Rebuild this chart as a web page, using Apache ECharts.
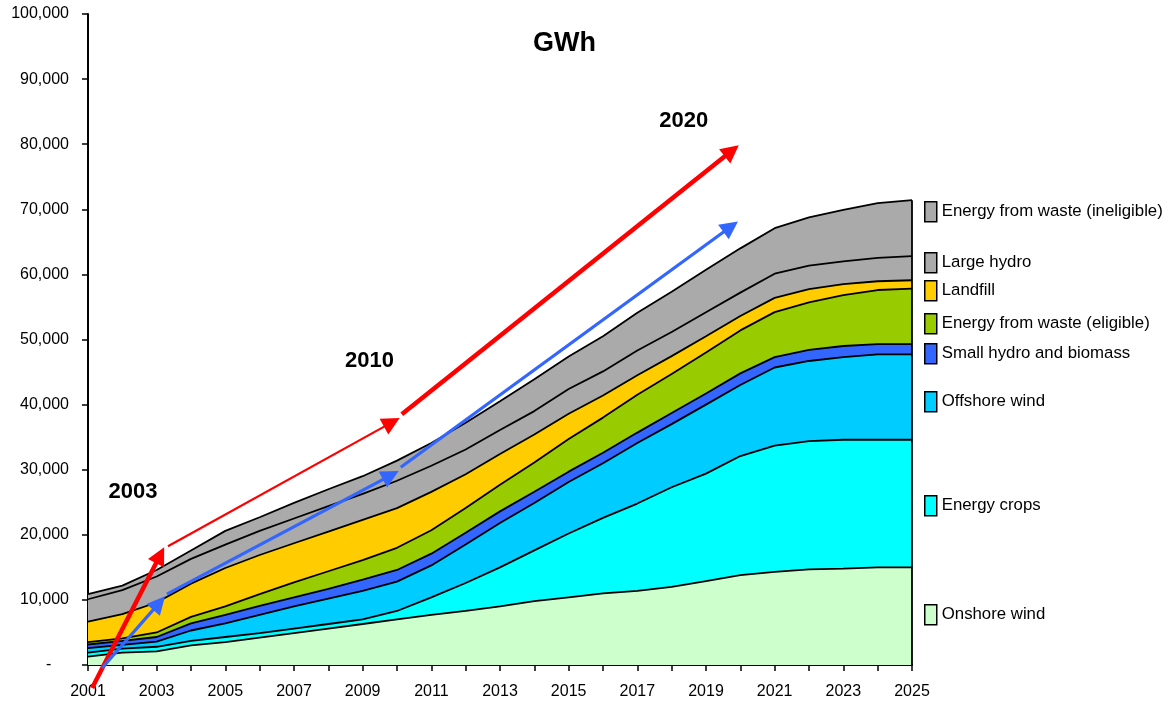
<!DOCTYPE html>
<html><head><meta charset="utf-8">
<script src="https://cdn.jsdelivr.net/npm/echarts/dist/echarts.min.js"></script>
<style>html,body{margin:0;padding:0;background:#fff}#c{width:1175px;height:706px}</style>
</head><body><div id="c"></div>
<script>
// ---- data (GWh) ----
const years = [2001,2002,2003,2004,2005,2006,2007,2008,2009,2010,2011,2012,2013,2014,2015,2016,2017,2018,2019,2020,2021,2022,2023,2024,2025];
const onshoreWind   = [1300,1900,2100,3000,3500,4200,4900,5600,6300,7000,7700,8300,9000,9800,10400,11000,11400,12000,12900,13800,14300,14700,14800,15000,15000];
const energyCrops   = [600,600,700,700,800,700,700,700,700,1300,2700,4300,6000,7800,9800,11600,13400,15300,16500,18300,19400,19700,19800,19600,19600];
const offshoreWind  = [700,600,800,1600,2100,2800,3400,3900,4400,4500,4900,5900,6800,7300,7900,8400,9300,9700,10600,10900,12000,12300,12700,13100,13100];
const smallHydroBio = [550,600,700,1100,1300,1400,1400,1500,1700,1800,1800,1800,1800,1700,1600,1600,1600,1700,1700,1800,1600,1700,1700,1600,1600];
const efwEligible   = [350,400,700,1000,1300,1800,2300,2700,3000,3400,3600,3800,4100,4500,5000,5400,5800,6000,6300,6600,6900,7300,7800,8300,8500];
const landfill      = [3150,3700,4600,5100,5900,6000,6000,6100,6200,6100,5900,5200,4700,4300,3900,3400,3000,2750,2500,2200,2200,2050,1700,1350,1300];
const largeHydro    = [3450,3700,4000,3800,3600,3700,3800,3900,4000,4200,4000,3800,3700,3600,3800,3700,3800,3700,3700,3600,3700,3600,3500,3600,3700];
const efwIneligible = [800,700,1000,1300,2100,2100,2400,2600,2700,3100,3500,4100,4400,4900,5000,5400,5800,6200,6500,6800,7000,7400,7900,8400,8600];

const seriesNames = ['Onshore wind','Energy crops','Offshore wind','Small hydro and biomass','Energy from waste (eligible)','Landfill','Large hydro','Energy from waste (ineligible)'];
const seriesValues = [onshoreWind, energyCrops, offshoreWind, smallHydroBio, efwEligible, landfill, largeHydro, efwIneligible];

// annotation arrows: [start, arrowhead] in (year, GWh)
const redArrows  = [[[2001.12,-3530],[2003.10,16870]], [[2003.33,18250],[2009.85,37270]], [[2010.14,38500],[2019.75,78990]]];
const blueArrows = [[[2001.41,-460],[2003.07,9510]],   [[2003.30,10890],[2009.82,29140]], [[2010.11,30370],[2019.72,67330]]];
const noteLabels = ['2003','2010','2020'];
const noteX = [2002.31, 2009.2, 2018.35];
const noteY = [26530, 46780, 83590];
const yTickLabelsZero = '-';

// ---- styling ----
const FONT = 'Liberation Sans, Arial, sans-serif';
const fills = ['#CCFFCC','#00FFFF','#00CCFF','#3366FF','#99CC00','#FFCC00','#AAAAAA','#AAAAAA'];
const legendCenters = [614, 505, 401, 353, 323, 290, 262, 211];
const redWidths = [4.5, 2.2, 4.5];

const chart = echarts.init(document.getElementById('c'), null, {renderer:'canvas'});

const areaSeries = seriesNames.map((name, i) => ({
  name, type: 'line', stack: 'total', symbol: 'none', showSymbol: false, smooth: false,
  xAxisIndex: 0, yAxisIndex: 0,
  color: fills[i],
  itemStyle: {color: fills[i]},
  lineStyle: {color: '#000', width: 1.8},
  areaStyle: {color: fills[i], opacity: 1},
  emphasis: {disabled: true},
  silent: true,
  z: 2,
  data: seriesValues[i]
}));

const lastTotal = seriesValues.reduce((s, arr) => s + arr[arr.length - 1], 0);
const arrowSeries = {
  type: 'lines', coordinateSystem: 'cartesian2d', xAxisIndex: 1, yAxisIndex: 0,
  clip: false, silent: true, z: 10,
  symbol: ['none','triangle'], symbolSize: 18,
  data: redArrows.map((a, i) => ({coords: a, lineStyle: {color: '#FF0000', width: redWidths[i], opacity: 1, curveness: 0}}))
    .concat(blueArrows.map(a => ({coords: a, lineStyle: {color: '#3366FF', width: 3.2, opacity: 1, curveness: 0}})))
};
const edgeSeries = {
  type: 'lines', coordinateSystem: 'cartesian2d', xAxisIndex: 1, yAxisIndex: 0,
  clip: false, silent: true, z: 5, symbol: ['none','none'],
  lineStyle: {color: '#000', width: 1.8, opacity: 1},
  data: [{coords: [[years[years.length-1], 0], [years[years.length-1], lastTotal]]}]
};

const noteSeries = {
  type: 'scatter', xAxisIndex: 1, yAxisIndex: 0, silent: true, z: 11, symbolSize: 0,
  itemStyle: {color: '#000'},
  label: {show: true, position: 'inside', formatter: p => p.value[2],
          fontFamily: FONT, fontSize: 22, fontWeight: 'bold', color: '#000', opacity: 1},
  data: noteLabels.map((t, i) => [noteX[i], noteY[i], t])
};

const legends = seriesNames.map((name, i) => ({
  data: [name], left: 924, top: legendCenters[i] - 10, padding: 0,
  orient: 'vertical', icon: 'rect', itemWidth: 12, itemHeight: 20, itemGap: 0,
  selectedMode: false,
  itemStyle: {borderColor: '#000', borderWidth: 1.5},
  textStyle: {fontFamily: FONT, fontSize: 16.8, color: '#000'}
}));

chart.setOption({
  animation: false,
  backgroundColor: '#fff',
  title: {text: 'GWh', left: 533, top: 30, padding: 0,
          textStyle: {fontFamily: FONT, fontSize: 27, fontWeight: 'bold', color: '#000'}},
  legend: legends,
  grid: {left: 88, right: 263, top: 14, bottom: 41, containLabel: false, outerBoundsMode: 'none'},
  xAxis: [{
    type: 'category', data: years, boundaryGap: false,
    axisLine: {show: true, lineStyle: {color: '#000', width: 2}},
    axisTick: {show: true, inside: false, length: 6, interval: 0, lineStyle: {color: '#000', width: 1.5}},
    splitLine: {show: false},
    axisLabel: {show: true, interval: 1, margin: 19, fontFamily: FONT, fontSize: 16, color: '#000', hideOverlap: false}
  }, {
    type: 'value', min: years[0], max: years[years.length-1], show: false,
    axisLine: {show: false}, axisTick: {show: false}, axisLabel: {show: false}, splitLine: {show: false}
  }],
  yAxis: {
    type: 'value', min: 0, max: 100000, interval: 10000,
    axisLine: {show: true, lineStyle: {color: '#000', width: 2}},
    axisTick: {show: true, inside: false, length: 6, lineStyle: {color: '#000', width: 1.5}},
    splitLine: {show: false},
    axisLabel: {show: true, margin: 19, fontFamily: FONT, fontSize: 16, color: '#000',
                formatter: v => (v === 0 ? yTickLabelsZero + '    ' : v.toLocaleString('en-US'))}
  },
  series: areaSeries.concat([edgeSeries, arrowSeries, noteSeries])
});
</script></body></html>
